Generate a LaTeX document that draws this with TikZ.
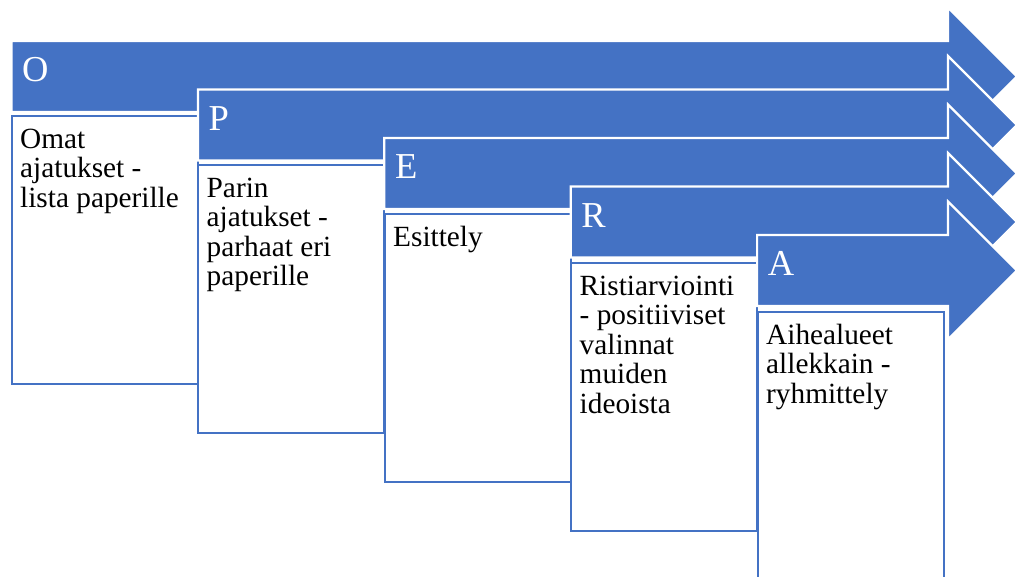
\documentclass[tikz,border=0pt]{standalone}
\usepackage{fontspec}
\setmainfont{Liberation Serif}
\definecolor{accblue}{HTML}{4472C4}
\tikzset{
  arrowshape/.style={fill=accblue, draw=white, line width=2.2pt, line join=miter},
  boxshape/.style={draw=accblue, fill=white, line width=2.2pt, anchor=north west, inner sep=0pt, minimum width=186pt, minimum height=268pt},
  letterlabel/.style={text=white, font=\fontsize{36.5}{36.5}\selectfont, anchor=base west, inner sep=0pt},
  bodytext/.style={text=black, font=\fontsize{29.3}{29.5}\selectfont, anchor=north west, inner sep=0pt, align=left},
}
\newcommand\opstep[4]{%
  \pgfmathsetmacro\ax{11.5+186.4*#1}%
  \pgfmathsetmacro\at{41+48.5*#1}%
  \pgfmathsetmacro\ab{\at+71}%
  \pgfmathsetmacro\ac{\at+35.5}%
  \pgfmathsetmacro\bx{10.5+186.5*#1}%
  \pgfmathsetmacro\bt{115+49*#1}%
  \draw[arrowshape] (\ax,\at) -- (948,\at) -- (948,\ac-69) -- (1017,\ac) -- (948,\ac+69) -- (948,\ab) -- (\ax,\ab) -- cycle;
  \node[letterlabel] (lab#2) at (\ax+10.5,\at+41) {#3};
  \node[boxshape] (box#2) at (\bx,\bt) {};
  \node[bodytext] (txt#2) at (\bx+9.5,\bt+11) {\rule{0pt}{22pt}#4};
}
\begin{document}
\begin{tikzpicture}[x=1pt,y=-1pt]
\useasboundingbox (0,0) rectangle (1015,577);
\opstep{0}{o}{O}{Omat\\ajatukset -\\lista paperille}
\opstep{1}{p}{P}{Parin\\ajatukset -\\parhaat eri\\paperille}
\opstep{2}{e}{E}{Esittely}
\opstep{3}{r}{R}{Ristiarviointi\\- positiiviset\\valinnat\\muiden\\ideoista}
\opstep{4}{a}{A}{Aihealueet\\allekkain -\\ryhmittely}
\end{tikzpicture}
\end{document}
